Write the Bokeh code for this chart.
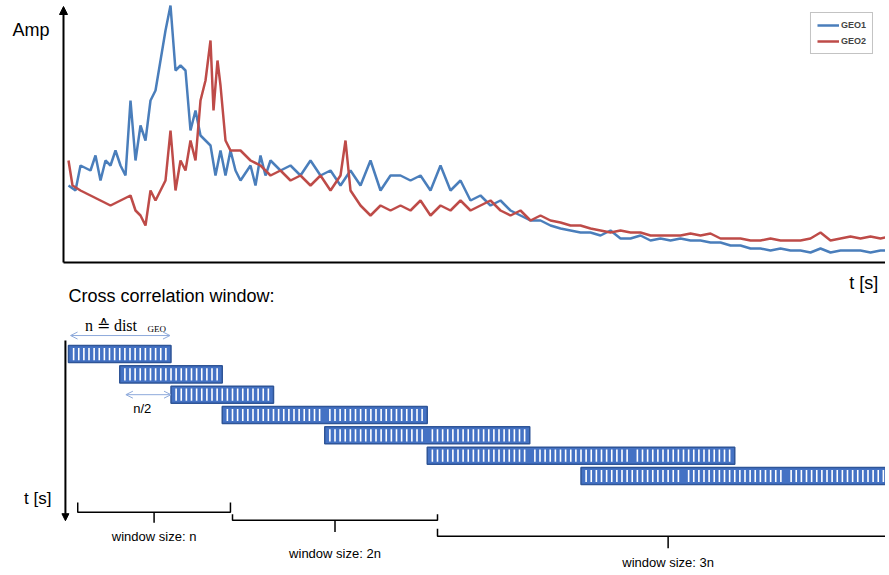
from bokeh.plotting import figure
from bokeh.models import Range1d, Arrow, NormalHead, OpenHead, Legend, LegendItem
from bokeh.layouts import column
from bokeh.core.properties import value
from bokeh.embed import file_html
from bokeh.resources import INLINE

FONT = "Liberation Sans"

# time samples (arbitrary units) and amplitudes of both geophones
t_geo1 = [68, 75, 80, 90, 95, 100, 105, 110, 115, 120, 125,
          130, 135, 140, 145, 150, 155, 160, 165, 170, 175, 180, 185, 190,
          195, 200, 205, 210, 215, 220, 225, 230, 235, 240, 250, 255, 260,
          265, 270, 280, 290, 300, 310, 320, 330, 340, 350, 360, 370, 380,
          390, 400, 410, 420, 430, 440, 450, 460, 470, 480, 490, 500, 510,
          520, 530, 540, 550, 560, 570, 580, 590, 600, 610, 620, 630, 640,
          650, 660, 670, 680, 690, 700, 710, 720, 730, 740, 750, 760, 770,
          780, 790, 800, 810, 820, 830, 840, 850, 860, 870, 880, 889]
amp_geo1 = [77, 72, 97, 92, 107, 82, 102, 97, 112, 97, 87,
            162, 102, 137, 122, 162, 172, 202, 232, 257, 192, 197, 192, 132,
            152, 127, 122, 117, 87, 112, 87, 112, 92, 82, 97, 77, 107,
            87, 102, 92, 97, 87, 102, 87, 92, 77, 92, 77, 102, 72,
            87, 87, 82, 87, 72, 97, 72, 82, 62, 67, 57, 62, 52,
            47, 42, 42, 37, 34, 32, 30, 30, 27, 32, 24, 24, 27,
            22, 24, 22, 24, 22, 22, 20, 20, 17, 17, 14, 14, 12,
            14, 12, 12, 10, 14, 10, 12, 12, 12, 10, 12, 12]

t_geo2 = [68, 72, 80, 90, 100, 110, 120, 130, 135, 140, 145, 150, 155,
          160, 165, 170, 175, 180, 185, 190, 195, 200, 205, 210, 213, 217,
          220, 225, 230, 240, 250, 260, 270, 280, 290, 300, 310, 320, 330,
          340, 345, 350, 360, 370, 380, 390, 400, 410, 420, 430, 440, 450,
          460, 470, 480, 490, 500, 510, 520, 530, 540, 550, 560, 570, 580,
          590, 600, 610, 620, 630, 640, 650, 660, 670, 680, 690, 700, 710,
          720, 730, 740, 750, 760, 770, 780, 790, 800, 810, 820, 830, 840,
          850, 860, 870, 880, 889]
amp_geo2 = [102, 77, 72, 67, 62, 57, 62, 67, 52, 47, 37, 72, 62,
            72, 82, 132, 72, 102, 92, 122, 102, 162, 182, 222, 152, 202,
            177, 122, 112, 112, 102, 97, 87, 92, 82, 87, 77, 87, 72,
            87, 122, 72, 57, 47, 57, 52, 57, 52, 62, 47, 57, 52,
            62, 52, 57, 62, 52, 47, 52, 42, 47, 42, 40, 37, 37,
            34, 32, 30, 32, 30, 30, 27, 27, 27, 27, 29, 27, 29,
            24, 24, 24, 22, 22, 24, 22, 22, 22, 24, 30, 22, 24,
            26, 24, 26, 24, 26]

# cross correlation windows: start and length in units of n
win_start = [0, 0.5, 1, 1.5, 2.5, 3.5, 5]
win_len = [1, 1, 1, 2, 2, 3, 3]

# brackets under the windows (in units of n)
br_left = [0.09, 1.6, 3.6]
br_right = [1.58, 3.6, 8.0]
br_labels = ["window size: n", "window size: 2n", "window size: 3n"]

BLUE = "#4a7ebb"
RED = "#be4b48"

# ---------- top: amplitude plot ----------
top = figure(width=885, height=270, output_backend="svg", toolbar_location=None,
             x_range=Range1d(0, 885), y_range=Range1d(-8, 262),
             min_border=0, outline_line_color=None)
top.axis.visible = False
top.grid.visible = False
r1 = top.line(t_geo1, amp_geo1, line_color=BLUE, line_width=2.5)
r2 = top.line(t_geo2, amp_geo2, line_color=RED, line_width=2.5)
top.segment(x0=[63], y0=[0], x1=[885], y1=[0], line_color="black", line_width=2)
top.add_layout(Arrow(x_start=63, y_start=0, x_end=63, y_end=256, line_width=2,
                     end=NormalHead(size=8, fill_color="black")))
top.text(x=[12], y=[233], text=["Amp"], text_font=value(FONT),
         text_font_size="18px", text_baseline="middle")
leg = Legend(items=[LegendItem(label="GEO1", renderers=[r1]),
                    LegendItem(label="GEO2", renderers=[r2])],
             location="top_right", label_text_font_size="9px",
             label_text_font_style="bold", label_text_font=FONT,
             border_line_color="#888888", glyph_width=22, glyph_height=12,
             label_height=12, spacing=4, padding=6, margin=12,
             label_standoff=2)
top.add_layout(leg)

# ---------- bottom: window diagram ----------
N = 102.5
bot = figure(width=885, height=300, output_backend="svg", toolbar_location=None,
             x_range=Range1d(-68 / N, 817 / N), y_range=Range1d(10.65, -4.11),
             min_border=0, outline_line_color=None)
bot.axis.visible = False
bot.grid.visible = False

rows = list(range(len(win_start)))
bot.hbar(y=rows, left=win_start, right=[s + l for s, l in zip(win_start, win_len)],
         height=0.84, fill_color="#4472c4", line_color="#2f5597", line_width=1.5)
sx, sy0, sy1 = [], [], []
for r, s, l in zip(rows, win_start, win_len):
    k = 1
    while k < 20 * l:
        if k % 20 != 0:
            sx.append(s + k / 20)
            sy0.append(r - 0.3)
            sy1.append(r + 0.3)
        k += 1
bot.segment(x0=sx, y0=sy0, x1=sx, y1=sy1, line_color="white", line_width=1.6)

# double arrows
for x0, x1, y in [(0.02, 0.99, -0.91), (0.56, 1.0, 2.0)]:
    bot.add_layout(Arrow(x_start=x0, y_start=y, x_end=x1, y_end=y,
                         line_color="#8eaadb", line_width=1,
                         start=OpenHead(size=7, line_color="#8eaadb", line_width=1),
                         end=OpenHead(size=7, line_color="#8eaadb", line_width=1)))
bot.text(x=[0.16], y=[-1.4], text=["n ≙ dist"], text_font=value("Liberation Serif"),
         text_font_size="16px", text_baseline="middle")
bot.text(x=[0.77], y=[-1.25], text=["GEO"], text_font=value("Liberation Serif"),
         text_font_size="9px", text_baseline="middle")
bot.text(x=[0.72], y=[2.7], text=["n/2"], text_font=value(FONT),
         text_font_size="13px", text_align="center", text_baseline="middle")

bot.text(x=[0], y=[-2.84], text=["Cross correlation window:"], text_font=value(FONT),
         text_font_size="18px", text_baseline="middle")
bot.text(x=[7.9], y=[-3.5], text=["t [s]"], text_font=value(FONT),
         text_font_size="18px", text_baseline="middle", text_align="right")
bot.text(x=[-0.3], y=[7.13], text=["t [s]"], text_font=value(FONT),
         text_font_size="17px", text_baseline="middle", text_align="center")
bot.add_layout(Arrow(x_start=-0.03, y_start=-0.66, x_end=-0.03, y_end=8.2,
                     line_width=2, end=NormalHead(size=7, fill_color="black")))

# brackets
br_line = [7.79, 8.18, 8.97]
br_end = [7.3, 7.88, 8.6]
br_tick = [8.3, 8.76, 9.56]
br_text = [9.0, 9.8, 10.25]
for l, r, yl, ye, yt, yx, lab in zip(br_left, br_right, br_line, br_end,
                                     br_tick, br_text, br_labels):
    c = (l + r) / 2 if r < 7.8 else 5.85
    bot.multi_line(xs=[[l, l, r, r], [c, c]], ys=[[ye, yl, yl, ye], [yl, yt]],
                   line_color="black", line_width=1.5)
    bot.text(x=[c], y=[yx], text=[lab], text_font=value(FONT),
             text_font_size="13px", text_align="center", text_baseline="middle")

p = column(top, bot, spacing=0)
open("out.html", "w").write(file_html(p, INLINE))
